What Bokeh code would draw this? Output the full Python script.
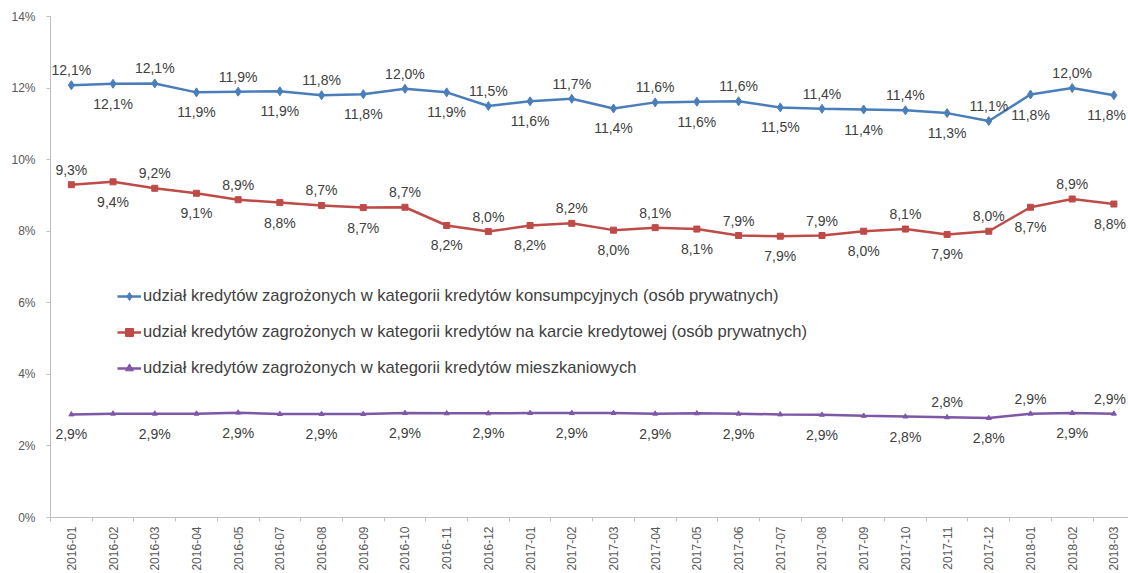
from bokeh.plotting import figure
from bokeh.models import Range1d, FixedTicker, ColumnDataSource, Legend, LegendItem, CustomJSTickFormatter
from bokeh.core.properties import value
from bokeh.embed import file_html
from bokeh.resources import INLINE

months = ["2016-01", "2016-02", "2016-03", "2016-04", "2016-05", "2016-07", "2016-08",
          "2016-09", "2016-10", "2016-11", "2016-12", "2017-01", "2017-02", "2017-03",
          "2017-04", "2017-05", "2017-06", "2017-07", "2017-08", "2017-09", "2017-10",
          "2017-11", "2017-12", "2018-01", "2018-02", "2018-03"]

konsumpcyjne = [12.08, 12.12, 12.13, 11.88, 11.90, 11.91, 11.80, 11.83, 11.98, 11.88, 11.50,
                11.63, 11.70, 11.43, 11.60, 11.62, 11.63, 11.46, 11.42, 11.40, 11.38, 11.30,
                11.08, 11.82, 12.00, 11.80]
karty = [9.30, 9.38, 9.20, 9.06, 8.88, 8.80, 8.72, 8.66, 8.67, 8.16, 7.99, 8.16, 8.22,
         8.03, 8.10, 8.06, 7.88, 7.86, 7.88, 8.00, 8.06, 7.91, 8.00, 8.67, 8.90, 8.76]
mieszkaniowe = [2.88, 2.90, 2.90, 2.90, 2.93, 2.89, 2.89, 2.89, 2.92, 2.91, 2.91, 2.92, 2.92,
                2.92, 2.90, 2.91, 2.90, 2.88, 2.87, 2.84, 2.82, 2.80, 2.78, 2.90, 2.92, 2.90]

series_names = [
    "udział kredytów zagrożonych w kategorii kredytów konsumpcyjnych (osób prywatnych)",
    "udział kredytów zagrożonych w kategorii kredytów na karcie kredytowej (osób prywatnych)",
    "udział kredytów zagrożonych w kategorii kredytów mieszkaniowych",
]
y_ticks = [0, 2, 4, 6, 8, 10, 12, 14]

# label placement per point (style)
pos_alt = ["above" if i % 2 == 0 else "below" for i in range(len(months))]
pos_purple = ["below", None, "below", None, "below", None, "below", None, "below", None,
              "below", None, "below", None, "below", None, "below", None, "below", None,
              "below", "above", "below", "above", "below", "above"]

FONT = "Liberation Sans"
colors = ["#4A7EBB", "#BE4B48", "#7E57A6"]

xs = list(range(len(months)))
last = len(xs) - 1

p = figure(width=1128, height=573, output_backend="svg", toolbar_location=None,
           x_range=Range1d(-0.5, 25.35), y_range=Range1d(0, 14),
           min_border_left=50, min_border_right=0, min_border_top=16, min_border_bottom=55)
p.outline_line_color = None
p.background_fill_color = "white"

p.xgrid.visible = False
p.ygrid.ticker = FixedTicker(ticks=[14])
p.ygrid.grid_line_color = "#BFBFBF"

# y axis
p.yaxis.ticker = FixedTicker(ticks=y_ticks)
p.yaxis.formatter = CustomJSTickFormatter(code="return tick.toFixed(0) + '%';")
p.yaxis.axis_line_color = "#BFBFBF"
p.yaxis.major_tick_line_color = "#BFBFBF"
p.yaxis.major_tick_out = 4
p.yaxis.major_tick_in = 0
p.yaxis.minor_tick_line_color = None
p.yaxis.major_label_standoff = 11
p.yaxis.major_label_text_font = FONT
p.yaxis.major_label_text_font_size = "12px"
p.yaxis.major_label_text_color = "#595959"

# x axis
p.xaxis.ticker = FixedTicker(ticks=xs, minor_ticks=[i - 0.5 for i in xs] + [len(xs) - 0.5])
p.xaxis.major_label_overrides = {i: m for i, m in enumerate(months)}
p.xaxis.major_label_orientation = 3.14159265 / 2
p.xaxis.axis_line_color = "#BFBFBF"
p.xaxis.major_tick_out = 0
p.xaxis.major_tick_in = 0
p.xaxis.minor_tick_out = 4
p.xaxis.minor_tick_in = 0
p.xaxis.minor_tick_line_color = "#BFBFBF"
p.xaxis.major_label_standoff = 5
p.xaxis.major_label_text_font = FONT
p.xaxis.major_label_text_font_size = "12px"
p.xaxis.major_label_text_color = "#595959"

def fmt(v):
    return f"{v:.1f}".replace(".", ",") + "%"

items = []
markers = ["diamond", "square", "triangle"]
msizes = [9, 6, 5]
all_vals = [konsumpcyjne, karty, mieszkaniowe]
all_pos = [pos_alt, pos_alt, pos_purple]
for k in range(3):
    vals = all_vals[k]
    src = ColumnDataSource(dict(x=xs, y=vals))
    lr = p.line("x", "y", source=src, line_color=colors[k], line_width=2.5)
    sr = p.scatter("x", "y", source=src, marker=markers[k], size=msizes[k],
                   fill_color=colors[k], line_color=colors[k])
    items.append(LegendItem(label=series_names[k], renderers=[lr, sr]))
    for where, off, base in (("above", -7, "bottom"), ("below", 12, "top")):
        idx = [i for i in xs if all_pos[k][i] == where]
        tsrc = ColumnDataSource(dict(
            x=[xs[i] for i in idx], y=[vals[i] for i in idx],
            t=[fmt(vals[i]) for i in idx],
            al=["right" if i == last else "center" for i in idx],
            xo=[12 if i == last else 0 for i in idx]))
        p.text("x", "y", text="t", source=tsrc, text_font=value(FONT),
               text_font_size="14px", text_color="#404040", text_align="al",
               x_offset="xo", text_baseline=base, y_offset=off)

legend = Legend(items=items, location=(67, 139), orientation="vertical",
                border_line_color=None, background_fill_alpha=0, padding=0, margin=0,
                glyph_width=24, glyph_height=20, label_height=20, spacing=16,
                label_standoff=2, label_text_font=FONT, label_text_font_size="16.6px",
                label_text_color="#404040")
p.add_layout(legend)

open("out.html", "w").write(file_html(p, INLINE))
